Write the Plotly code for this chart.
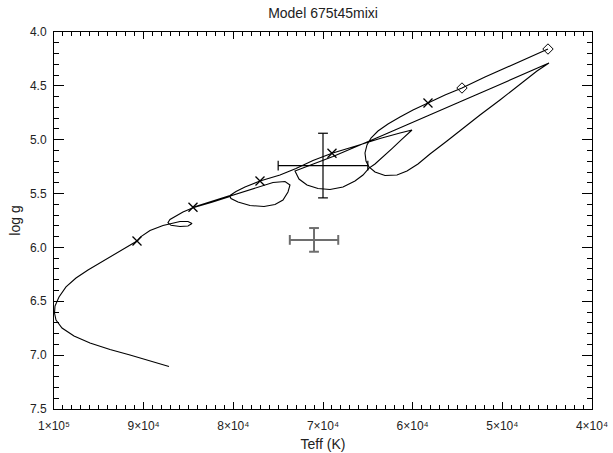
import plotly.graph_objects as go

# Evolutionary track (Teff in K, log g)
teff_track = [44909, 47474, 49704, 51935, 54500, 56396, 58292, 59964, 61414, 62752,
              63868, 64648, 65094, 65317, 65206, 64871, 64202, 63087, 61749, 60633,
              59407, 58068, 56173, 54388, 52492, 50262, 48032, 46136, 44798,
              46916, 50262, 54388, 58068, 61414, 63644, 65875, 68886, 71228, 73124,
              72678, 71785, 70559, 69220, 67771, 66432, 65540, 64871,
              64202, 63310, 62306, 61303, 60522, 60076,
              61414, 63644, 66321, 68998, 71116, 73012, 74796, 77027, 78700, 79703,
              80372, 82380, 84499, 82380, 80372, 78142, 75577, 74239, 73681, 73904,
              74462, 75354, 76581, 78142, 79480, 80261, 80372, 82380, 84499,
              85614, 86395, 87064, 87287, 86952, 85948, 85056, 84610, 85056, 85948,
              86729, 87844, 89294, 90298, 90744, 91859, 92974, 93755, 94870, 96208,
              97547, 98662, 99442, 99888, 99944, 99777, 99108, 97770, 95985, 93755,
              91524, 89294, 87175]
logg_track = [4.158, 4.251, 4.334, 4.418, 4.520, 4.585, 4.659, 4.724, 4.789, 4.854,
              4.919, 4.984, 5.049, 5.123, 5.198, 5.253, 5.300, 5.332, 5.328, 5.290,
              5.225, 5.133, 5.012, 4.891, 4.771, 4.631, 4.483, 4.362, 4.288,
              4.367, 4.487, 4.636, 4.771, 4.891, 4.970, 5.049, 5.156, 5.230, 5.290,
              5.365, 5.420, 5.453, 5.462, 5.439, 5.383, 5.328, 5.263,
              5.225, 5.160, 5.082, 5.003, 4.942, 4.910,
              4.938, 4.989, 5.058, 5.126, 5.193, 5.267, 5.328, 5.383, 5.439, 5.481,
              5.518, 5.574, 5.627, 5.576, 5.523, 5.462, 5.397, 5.388, 5.420, 5.485,
              5.560, 5.601, 5.620, 5.611, 5.578, 5.546, 5.527, 5.580, 5.632,
              5.671, 5.708, 5.741, 5.769, 5.795, 5.806, 5.801, 5.778, 5.759, 5.759,
              5.773, 5.796, 5.843, 5.899, 5.940, 5.996, 6.047, 6.084, 6.145, 6.210,
              6.284, 6.367, 6.460, 6.544, 6.609, 6.674, 6.748, 6.822, 6.887, 6.948,
              6.999, 7.054, 7.105]

# Time markers
teff_cross = [58292, 68998, 77027, 84499, 90744]
logg_cross = [4.659, 5.126, 5.383, 5.627, 5.940]
teff_diamond = [44909, 54500]
logg_diamond = [4.158, 4.520]

# Observed positions (value, error)
obs_teff = [70000, 71000]
obs_teff_err = [5000, 2700]
obs_logg = [5.24, 5.93]
obs_logg_err = [0.30, 0.11]
obs_color = ["black", "#6e6e6e"]
obs_width = [1.2, 2.0]

# Tick labels
x_tick_teff = [100000, 90000, 80000, 70000, 60000, 50000, 40000]
x_tick_text = ["1×10⁵", "9×10⁴", "8×10⁴", "7×10⁴", "6×10⁴", "5×10⁴", "4×10⁴"]
x_alias = {str(v): t for v, t in zip(x_tick_teff, x_tick_text)}

X_RANGE = [100000, 40000]
Y_RANGE = [7.5, 4.0]
FONT = "Liberation Sans"
TXT = "#222222"

fig = go.Figure()
fig.add_trace(go.Scatter(x=teff_track, y=logg_track, mode="lines",
                         line=dict(color="black", width=1.1)))
fig.add_trace(go.Scatter(x=teff_cross, y=logg_cross, mode="markers",
                         marker=dict(symbol="x-thin-open", size=9, color="black",
                                     line=dict(color="black", width=1.3))))
fig.add_trace(go.Scatter(x=teff_diamond, y=logg_diamond, mode="markers",
                         marker=dict(symbol="diamond-open", size=8, color="black",
                                     line=dict(color="black", width=1))))
for t, te, g, ge, c, w in zip(obs_teff, obs_teff_err, obs_logg, obs_logg_err,
                              obs_color, obs_width):
    fig.add_trace(go.Scatter(x=[t - te, t + te], y=[g, g], mode="lines+markers",
                             line=dict(color=c, width=w),
                             marker=dict(symbol="line-ns-open", size=7,
                                         line=dict(color=c, width=w))))
    fig.add_trace(go.Scatter(x=[t, t], y=[g - ge, g + ge], mode="lines+markers",
                             line=dict(color=c, width=w),
                             marker=dict(symbol="line-ew-open", size=7,
                                         line=dict(color=c, width=w))))
# invisible trace that activates the top/right tick axes
fig.add_trace(go.Scatter(x=[obs_teff[0]], y=[obs_logg[0]], xaxis="x2", yaxis="y2",
                         mode="markers", marker=dict(size=1, color="rgba(0,0,0,0)"),
                         hoverinfo="skip"))

fig.update_layout(
    width=613, height=453,
    margin=dict(l=54, r=21, t=32, b=44),
    paper_bgcolor="white", plot_bgcolor="white",
    showlegend=False,
    font=dict(family=FONT, size=12, color=TXT),
    title=dict(text="Model 675t45mixi", x=323 / 613, xanchor="center",
               y=0.972, yanchor="middle", font=dict(size=14)),
    xaxis=dict(
        range=X_RANGE, tickmode="linear", tick0=0, dtick=10000, tickformat="d",
        labelalias=x_alias,
        ticks="inside", ticklen=7, tickwidth=1, tickcolor="black",
        minor=dict(ticks="inside", ticklen=4, tickwidth=1, tickcolor="black", dtick=1000),
        showline=True, linecolor="black", mirror=True,
        showgrid=False, zeroline=False, automargin=False, ticklabelstandoff=6,
        title=dict(text="Teff (K)", standoff=6),
    ),
    yaxis=dict(
        range=Y_RANGE, tickmode="linear", tick0=4.0, dtick=0.5, tickformat=".1f",
        ticks="inside", ticklen=10, tickwidth=1, tickcolor="black",
        minor=dict(ticks="inside", ticklen=5, tickwidth=1, tickcolor="black", dtick=0.1),
        showline=True, linecolor="black", mirror=True,
        showgrid=False, zeroline=False, automargin=False, ticklabelstandoff=4,
        title=dict(text="log g", standoff=6),
    ),
    xaxis2=dict(
        range=X_RANGE, overlaying="x", side="top", anchor="y2",
        tickmode="linear", tick0=0, dtick=10000, showticklabels=False,
        ticks="inside", ticklen=7, tickwidth=1, tickcolor="black",
        minor=dict(ticks="inside", ticklen=4, tickwidth=1, tickcolor="black", dtick=1000),
        showline=False, showgrid=False, zeroline=False, automargin=False,
    ),
    yaxis2=dict(
        range=Y_RANGE, overlaying="y", side="right", anchor="x2",
        tickmode="linear", tick0=4.0, dtick=0.5, showticklabels=False,
        ticks="inside", ticklen=10, tickwidth=1, tickcolor="black",
        minor=dict(ticks="inside", ticklen=5, tickwidth=1, tickcolor="black", dtick=0.1),
        showline=False, showgrid=False, zeroline=False, automargin=False,
    ),
)

fig.write_html("out.html")
